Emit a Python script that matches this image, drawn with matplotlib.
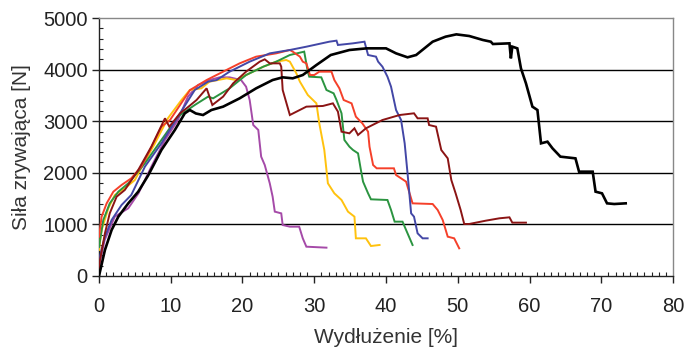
import matplotlib
matplotlib.use("Agg")
import matplotlib.pyplot as plt
from matplotlib.ticker import MultipleLocator

plt.rcParams['font.family'] = ['Liberation Sans', 'DejaVu Sans']

# ---- data ----
black_x = [0, 0.83, 1.76, 2.7, 4.08, 5.47, 6.86, 8.7, 10.57, 11.96, 12.66, 13.5, 14.5, 15.67, 17.3, 19.6, 21.9, 24.2, 25.6, 27.0, 28.4, 30.3, 32.3, 34.9, 37.3, 40.0, 41.4, 43.0, 44.2, 46.5, 48.3, 49.8, 51.6, 53.5, 54.6, 54.9, 57.2, 57.4, 57.6, 58.3, 58.8, 59.5, 60.4, 61.1, 61.6, 62.5, 63.2, 64.3, 66.4, 66.9, 68.8, 69.2, 70.1, 70.8, 71.8, 73.4]
black_y = [0, 504, 891, 1150, 1408, 1634, 1950, 2442, 2829, 3153, 3217, 3150, 3120, 3217, 3282, 3443, 3637, 3798, 3850, 3831, 3895, 4089, 4283, 4380, 4412, 4412, 4315, 4238, 4283, 4541, 4638, 4683, 4651, 4574, 4541, 4496, 4509, 4218, 4445, 4412, 4025, 3734, 3282, 3217, 2571, 2603, 2474, 2313, 2280, 2022, 2022, 1634, 1602, 1408, 1395, 1408]

blue_x = [0, 0.83, 1.76, 3.15, 4.5, 6.4, 8.7, 11.0, 13.35, 15.2, 16.4, 18.2, 21.0, 23.8, 26.6, 28.9, 32.1, 33.1, 33.3, 35.4, 37.0, 37.5, 38.6, 38.9, 39.5, 40.2, 40.7, 41.4, 42.1, 42.6, 43.0, 43.5, 43.9, 44.4, 45.1, 45.8]
blue_y = [310, 762, 1085, 1376, 1570, 2119, 2571, 3088, 3605, 3766, 3798, 3960, 4154, 4315, 4380, 4444, 4541, 4561, 4477, 4509, 4541, 4283, 4251, 4154, 4057, 3863, 3669, 3217, 3023, 2571, 1990, 1214, 1150, 827, 730, 730]

red_x = [0, 0.37, 1.07, 2.0, 3.15, 4.5, 5.9, 7.1, 8.7, 9.9, 12.7, 15.0, 17.3, 19.6, 21.9, 24.7, 26.6, 27.0, 28.0, 28.4, 28.9, 29.4, 30.0, 30.7, 32.4, 32.8, 33.5, 34.1, 35.2, 35.8, 36.7, 37.5, 37.7, 38.2, 38.7, 41.1, 41.4, 42.8, 43.7, 46.5, 47.2, 47.9, 48.6, 49.5, 50.2]
red_y = [762, 1150, 1408, 1634, 1764, 1893, 2119, 2442, 2894, 3023, 3605, 3798, 3960, 4121, 4251, 4315, 4380, 4348, 4251, 4154, 4121, 3895, 3895, 3960, 3960, 3798, 3637, 3411, 3346, 3088, 2959, 2797, 2506, 2151, 2087, 2087, 1957, 1828, 1408, 1395, 1279, 1085, 762, 730, 536]

green_x = [0, 0.6, 1.5, 2.7, 4.08, 6.4, 8.7, 11.0, 13.35, 15.2, 15.9, 18.2, 20.5, 22.9, 24.7, 26.6, 28.6, 29.1, 29.3, 30.98, 31.7, 32.7, 33.1, 33.8, 34.2, 34.9, 35.4, 36.1, 36.5, 36.8, 37.5, 37.9, 40.2, 40.7, 41.2, 42.3, 42.8, 43.2, 43.7]
green_y = [560, 1085, 1408, 1634, 1796, 2184, 2636, 3088, 3314, 3476, 3443, 3637, 3895, 4057, 4154, 4283, 4348, 3960, 3863, 3850, 3605, 3540, 3411, 3153, 2636, 2506, 2442, 2377, 2054, 1828, 1602, 1486, 1473, 1279, 1053, 1053, 891, 762, 601]

yellow_x = [0, 0.37, 1.3, 2.2, 3.6, 5.0, 6.5, 7.8, 9.6, 11.5, 12.66, 14.27, 15.4, 17.8, 19.1, 20.5, 22.9, 24.7, 26.1, 26.6, 27.5, 28.0, 29.1, 30.3, 30.7, 31.4, 31.9, 32.8, 33.8, 34.7, 35.6, 35.8, 37.2, 37.9, 39.1]
yellow_y = [504, 891, 1312, 1570, 1699, 1860, 2250, 2571, 3056, 3411, 3605, 3637, 3766, 3831, 3798, 3895, 4057, 4154, 4186, 4154, 3928, 3766, 3508, 3346, 2959, 2442, 1796, 1602, 1473, 1247, 1150, 730, 730, 581, 601]

purple_x = [0, 0.8, 2.2, 4.08, 5.5, 7.3, 9.2, 11.0, 12.4, 13.8, 15.4, 16.8, 18.2, 19.8, 20.5, 21.0, 21.5, 22.2, 22.6, 23.1, 23.8, 24.2, 24.5, 25.4, 25.6, 26.6, 27.9, 28.4, 28.9, 31.7]
purple_y = [200, 700, 1150, 1312, 1602, 2119, 2636, 3023, 3476, 3700, 3798, 3850, 3850, 3798, 3669, 3411, 2926, 2830, 2313, 2151, 1796, 1537, 1247, 1214, 988, 956, 956, 730, 568, 549]

darkred_x = [0, 0.14, 0.83, 1.5, 2.46, 3.6, 5.47, 7.3, 9.2, 9.8, 11.3, 12.2, 13.6, 15.0, 15.8, 17.3, 18.7, 20.5, 22.4, 23.1, 23.8, 25.2, 25.4, 25.6, 26.6, 28.9, 31.2, 32.6, 33.3, 33.8, 34.9, 35.6, 36.1, 37.2, 39.5, 41.9, 43.9, 44.4, 45.8, 46.0, 46.97, 47.7, 48.6, 49.1, 49.7, 50.4, 50.9, 51.6, 53.9, 55.8, 57.2, 57.6, 59.5]
darkred_y = [150, 310, 827, 1214, 1537, 1667, 2054, 2507, 3056, 2894, 3153, 3250, 3411, 3637, 3314, 3476, 3734, 3960, 4154, 4199, 4121, 4121, 4057, 3605, 3120, 3282, 3295, 3346, 3185, 2797, 2765, 2862, 2733, 2862, 3023, 3120, 3153, 3056, 3056, 2926, 2894, 2442, 2280, 1860, 1602, 1279, 1008, 1008, 1072, 1118, 1137, 1034, 1034]

x_ticks = [0, 10, 20, 30, 40, 50, 60, 70, 80]
y_ticks = [0, 1000, 2000, 3000, 4000, 5000]

series = [
    (purple_x, purple_y, '#a54aa8', 1.4),
    (yellow_x, yellow_y, '#ffc20e', 1.4),
    (green_x, green_y, '#2b9440', 1.4),
    (red_x, red_y, '#f5402a', 1.4),
    (blue_x, blue_y, '#4347a6', 1.4),
    (darkred_x, darkred_y, '#8b1414', 1.4),
    (black_x, black_y, '#000000', 1.9),
]

fig = plt.figure(figsize=(6.84, 3.51), dpi=100)
ax = fig.add_axes([0.1447, 0.2137, 0.8393, 0.735])

for yv in y_ticks[1:-1]:
    ax.axhline(yv, color='black', lw=1.0, zorder=1)

for xs, ys, c, lw in series:
    ax.plot(xs, ys, color=c, lw=lw, zorder=3, solid_joinstyle='miter')

ax.set_xlim(0, 80)
ax.set_ylim(0, 5000)
ax.set_xticks(x_ticks)
ax.set_yticks(y_ticks)
ax.xaxis.set_minor_locator(MultipleLocator(1))
ax.yaxis.set_minor_locator(MultipleLocator(200))

ax.tick_params(which='major', direction='out', length=5, width=1.0, labelsize=14.5,
               colors='#222222')
ax.tick_params(axis='x', which='major', pad=10)
ax.tick_params(axis='y', which='major', pad=3)
ax.tick_params(which='minor', direction='in', length=3, width=0.8, colors='#222222')

for s in ['left', 'bottom']:
    ax.spines[s].set_color('#222222')
    ax.spines[s].set_linewidth(1.0)
for s in ['top', 'right']:
    ax.spines[s].set_color('#888888')
    ax.spines[s].set_linewidth(1.0)

ax.set_xlabel('Wydłużenie [%]', fontsize=15, color='#333333', labelpad=9)
ax.set_ylabel('Siła zrywająca [N]', fontsize=15, color='#333333', labelpad=9)

fig.savefig('out.png', dpi=100)
